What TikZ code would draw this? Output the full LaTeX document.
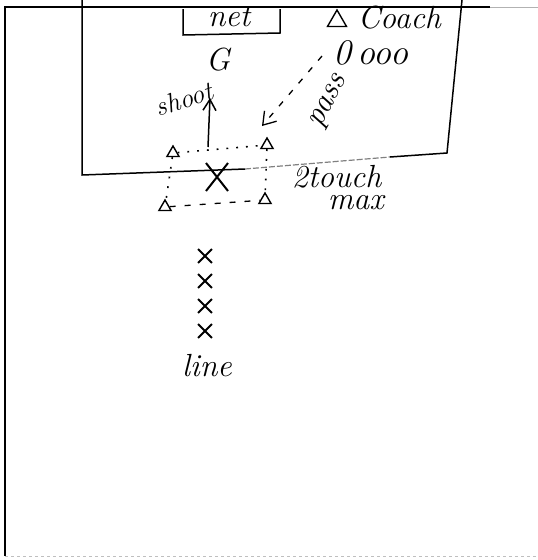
\documentclass[tikz,border=0pt]{standalone}
\usetikzlibrary{shapes.geometric,shapes.misc,arrows.meta}
\begin{document}
\begin{tikzpicture}[x=1pt,y=-1pt,line width=1.5pt,
  hand/.style={font=\fontsize{32}{34}\selectfont\itshape, inner sep=0pt},
  player/.style={regular polygon, regular polygon sides=3, draw, inner sep=0pt, minimum size=14pt, line width=1.4pt},
  bigx/.style={cross out, draw, minimum width=20pt, minimum height=26pt, inner sep=0pt, line width=2pt},
  smallx/.style={cross out, draw, minimum width=12pt, minimum height=12pt, inner sep=0pt, line width=1.8pt},
  dotline/.style={dash pattern=on 1.8pt off 8pt, line width=1.6pt},
  dashline/.style={dash pattern=on 6pt off 9pt, line width=1.3pt}]
\useasboundingbox (0,0) rectangle (538,560);
% outer field
\draw (490,7) -- (5,7) -- (5,556);
\draw[gray!60, line width=1pt] (490,7) -- (538,7);
\draw[gray!50, dashed, line width=1pt] (5,556) -- (538,556);
% penalty area
\draw (82,0) -- (82,175) -- (245,169);
\draw[gray, dash pattern=on 6pt off 2pt, line width=1.2pt] (245,169) -- (390,157);
\draw (390,157) -- (447,153) -- (462,0);
% net
\draw (183,9) -- (183,35) -- (280,33) -- (280,9);
\node[hand] (net) at (229,17) {net};
\node[hand] (goalie) at (218,60) {G};
% coach
\node[player, minimum size=22pt] (coach) at (337,21) {};
\node[hand, anchor=west] (coachtxt) at (357,18) {Coach};
\node[hand, anchor=west, font=\fontsize{36}{38}\selectfont\itshape] (balls) at (333,53) {0\hspace{6pt}ooo};
% pass
\coordinate (passstart) at (322,56);
\coordinate (passend) at (262,126);
\draw[dashline, -{Straight Barb[length=12pt,width=16pt]}] (passstart) -- (passend);
\node[hand, rotate=62] (pass) at (330,102) {pass};
% players
\node[player] (p1) at (173,153) {};
\node[player] (p2) at (267,145) {};
\node[player] (p3) at (165,207) {};
\node[player] (p4) at (265,200) {};
\draw[dotline] (p1) -- (p2);
\draw[dashline] (p3) -- (p4);
\draw[dotline] (p1) -- (p3);
\draw[dotline] (p2) -- (p4);
% shooter
\node[bigx] (shooter) at (217,177) {};
\coordinate (shotstart) at (208,147);
\coordinate (shotend) at (210,98);
\draw[-{Straight Barb[length=11pt,width=13pt]}] (shotstart) -- (shotend);
\node[hand, rotate=18, font=\fontsize{27}{29}\selectfont\itshape] (shoot) at (184,99) {shoot};
\node[hand, anchor=west] (touch) at (291,177) {2touch};
\node[hand, anchor=west] (max) at (327,203) {max};
% line
\node[smallx] (l1) at (205,256) {};
\node[smallx] (l2) at (205,281) {};
\node[smallx] (l3) at (205,306) {};
\node[smallx] (l4) at (205,331) {};
\node[hand] (line) at (207,366) {line};
\end{tikzpicture}
\end{document}
